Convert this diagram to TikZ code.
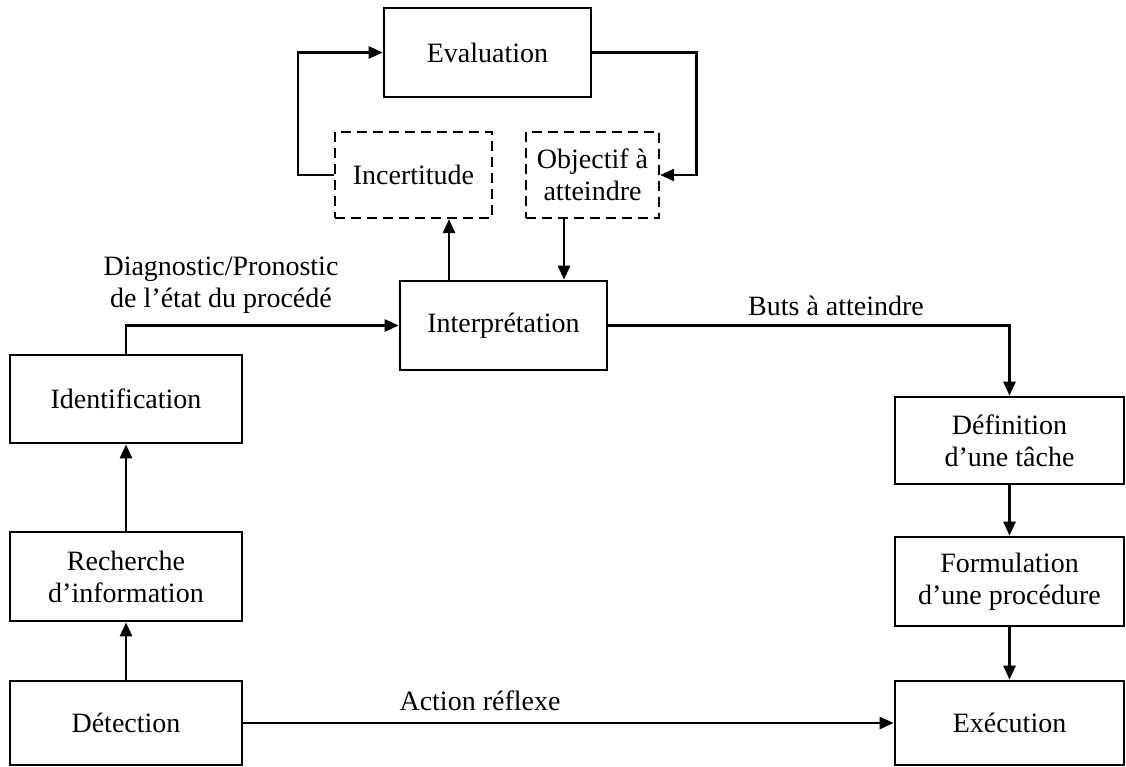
\documentclass[tikz,border=0pt]{standalone}
\usepackage{fontspec}
\setmainfont{Liberation Serif}
\usetikzlibrary{arrows.meta}
\begin{document}
\begin{tikzpicture}[x=1pt,y=-1pt,
  box/.style={draw, line width=2.7pt, inner sep=0pt, align=center,
    font=\fontsize{28}{32}\selectfont},
  dbox/.style={box, line width=2.3pt, dash pattern=on 10pt off 6pt},
  arr/.style={line width=2.6pt, -{Triangle[length=14pt,width=12pt]}},
  lbl/.style={align=center, inner sep=0pt, font=\fontsize{28}{32}\selectfont}]
\useasboundingbox (0,0) rectangle (1126,767);
\fill[white] (0,0) rectangle (1126,767);

% upper loop
\node[box, minimum width=207, minimum height=89] (eval) at (487.5,52.5) {Evaluation};
\node[dbox, minimum width=157, minimum height=86] (inc) at (413.5,175) {Incertitude};
\node[dbox, minimum width=133, minimum height=86] (obj) at (592.5,175) {Objectif à\\atteindre};
\node[box, minimum width=207, minimum height=89] (interp) at (503.5,325.5) {Interprétation};

% left column
\node[box, minimum width=232, minimum height=88] (ident) at (126,399) {Identification};
\node[box, minimum width=232, minimum height=89] (rech) at (126,576.5) {Recherche\\d’information};
\node[box, minimum width=232, minimum height=84] (det) at (126,723) {Détection};

% right column
\node[box, minimum width=229, minimum height=87] (def) at (1009.5,440.5) {Définition\\d’une tâche};
\node[box, minimum width=229, minimum height=89] (form) at (1009.5,581.5) {Formulation\\d’une procédure};
\node[box, minimum width=229, minimum height=84] (exec) at (1009.5,723) {Exécution};

% connectors
\draw[arr] (inc.west) -- ++(-36,0) |- (eval.west);
\draw[arr] (eval.east) -- ++(104,0) |- (obj.east);
\draw[arr] ([xshift=-54.5pt]interp.north) -- ([xshift=-54.5pt]interp.north |- inc.south);
\draw[arr] ([xshift=-28.5pt]obj.south) -- ([xshift=-28.5pt]obj.south |- interp.north);
\draw[arr] (ident.north) |- (interp.west);
\draw[arr] (interp.east) -| (def.north);
\draw[arr] (def.south) -- (form.north);
\draw[arr] (form.south) -- (exec.north);
\draw[arr] (det.north) -- (rech.south);
\draw[arr] (rech.north) -- (ident.south);
\draw[arr] (det.east) -- (exec.west);

% connector labels
\node[lbl] (ldiag) at (221,285) {Diagnostic/Pronostic\\de l’état du procédé};
\node[lbl] (lbuts) at (836,306) {Buts à atteindre};
\node[lbl] (lact) at (480,701) {Action réflexe};
\end{tikzpicture}
\end{document}
